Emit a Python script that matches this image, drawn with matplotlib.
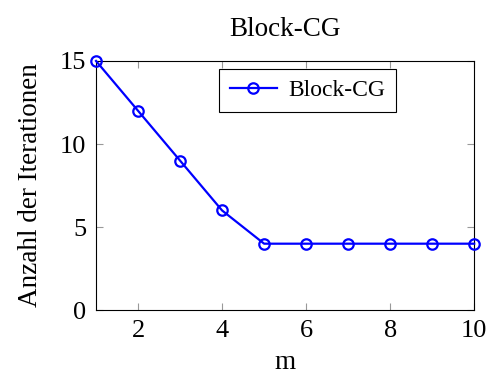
import matplotlib.pyplot as plt

plt.rcParams['font.family'] = ['Liberation Serif', 'DejaVu Serif']

m = [1, 2, 3, 4, 5, 6, 7, 8, 9, 10]
iterations = [15, 12, 9, 6, 4, 4, 4, 4, 4, 4]

fig = plt.figure(figsize=(4.95, 3.81), dpi=100)
ax = fig.add_axes([0.194, 0.186, 0.764, 0.654])

ax.plot(m, iterations, color='blue', lw=1.6, marker='o', ms=7.5,
        mfc='none', mew=1.6, label='Block-CG', clip_on=False, zorder=5)

ax.set_xlim(1, 10)
ax.set_ylim(0, 15)
ax.set_xticks([2, 4, 6, 8, 10])
ax.set_yticks([0, 5, 10, 15])
ax.tick_params(direction='in', top=True, right=True, length=5, color='#999999',
               labelsize=19, width=0.8, pad=7)
for s in ax.spines.values():
    s.set_linewidth(0.8)

ax.set_title('Block-CG', fontsize=19.5, pad=18)
ax.set_xlabel('m', fontsize=19.5, labelpad=6)
ax.set_ylabel('Anzahl der Iterationen', fontsize=19.5, labelpad=12)

leg = ax.legend(loc='upper center', bbox_to_anchor=(0.56, 0.968), fontsize=17,
                fancybox=False, edgecolor='black', framealpha=1,
                handlelength=2.0, borderpad=0.45, handletextpad=0.5,
                borderaxespad=0)
leg.get_frame().set_linewidth(0.8)

fig.savefig('out.png', dpi=100)
